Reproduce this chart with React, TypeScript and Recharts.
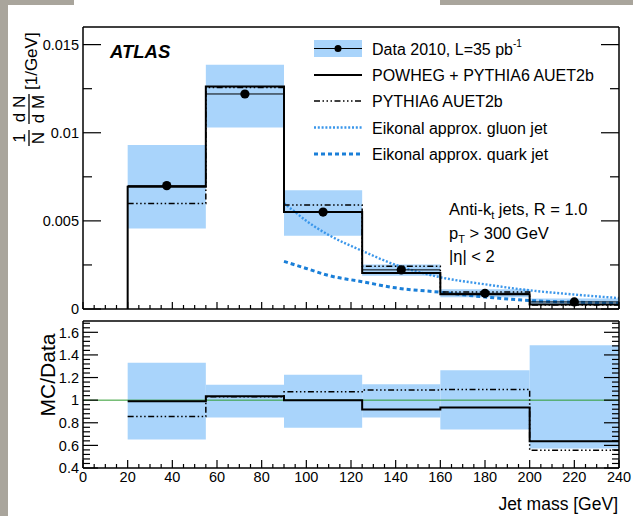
import React from 'react';
import { ComposedChart, Line, Scatter, ErrorBar, XAxis, YAxis, ReferenceArea, ReferenceLine } from 'recharts';

// jet mass bin edges [GeV]
const binEdges = [20, 55, 90, 125, 160, 200, 240];

// 1/N dN/dM [1/GeV] per bin
const dataValues = [0.007, 0.0122, 0.0055, 0.00222, 0.00089, 0.0004];
const dataBandLow = [0.00457, 0.0103, 0.00416, 0.00188, 0.00066, 0.00023];
const dataBandHigh = [0.00931, 0.01386, 0.00674, 0.00253, 0.00112, 0.00059];
const powhegValues = [0.00693, 0.01263, 0.0055, 0.00204, 0.00083, 0.00025];
const pythiaValues = [0.00599, 0.01257, 0.0059, 0.00242, 0.00097, 0.00022];

// eikonal approximation curves
const eikonalMass = [90, 95, 100, 110, 125, 140, 160, 180, 200, 220, 240];
const gluonValues = [0.006, 0.0055, 0.005, 0.0042, 0.0033, 0.0025, 0.0018, 0.0014, 0.00106, 0.00082, 0.00062];
const quarkValues = [0.0027, 0.0025, 0.0023, 0.0019, 0.00155, 0.0012, 0.00095, 0.00068, 0.00048, 0.00039, 0.00032];

// MC/Data ratio per bin
const ratioBandLow = [0.653, 0.846, 0.757, 0.846, 0.74, 0.573];
const ratioBandHigh = [1.33, 1.136, 1.225, 1.14, 1.264, 1.486];
const ratioPowheg = [0.99, 1.035, 1.0, 0.917, 0.935, 0.636];
const ratioPythia = [0.855, 1.03, 1.074, 1.09, 1.095, 0.556];

// axis ticks
const massTicks = [0, 20, 40, 60, 80, 100, 120, 140, 160, 180, 200, 220, 240];
const spectrumTicks = [0, 0.005, 0.01, 0.015];
const ratioTicks = [0.4, 0.6, 0.8, 1, 1.2, 1.4, 1.6];

const FONT = '"Liberation Sans", Arial, Helvetica, sans-serif';
const BAND = '#a9d4fb';
const GLUON = '#3a96ea';
const QUARK = '#1a7fd8';
const DASH_DOT = '6 2.5 1.5 2.5 1.5 2.5 1.5 2.5';
const DOTTED = '2 1.8';

const W = 633;

const subdivide = (start: number, end: number, step: number) => {
  const out: number[] = [];
  for (let i = 0; start + i * step <= end + 1e-9; i++) out.push(+(start + i * step).toFixed(6));
  return out;
};

const massMinor = subdivide(0, 240, 5);
const spectrumMinor = subdivide(0, 0.015, 0.0025);
const ratioMinor = subdivide(0.4, 1.68, 0.04);

const stepRows = (vals: number[]) =>
  binEdges.map((m, i) => ({ m, v: vals[Math.min(i, vals.length - 1)] }));

const bins = dataValues.map((v, i) => ({
  m: (binEdges[i] + binEdges[i + 1]) / 2,
  v,
  err: (binEdges[i + 1] - binEdges[i]) / 2,
}));

const gluonRows = eikonalMass.map((m, i) => ({ m, v: gluonValues[i] }));
const quarkRows = eikonalMass.map((m, i) => ({ m, v: quarkValues[i] }));

type Side = 'left' | 'right' | 'top' | 'bottom';

const near = (v: number, list: number[]) => list.some((t) => Math.abs(t - v) < 1e-7);

// ticks point into the frame; labels only on major ticks
const makeTick =
  (side: Side, majors: number[], majorLen: number, minorLen: number, fmt?: (v: number) => string) =>
  (props: any) => {
    const { x, y, payload } = props;
    const v = payload.value as number;
    const major = near(v, majors);
    const len = major ? majorLen : minorLen;
    let x2 = x;
    let y2 = y;
    if (side === 'left') x2 = x + len;
    if (side === 'right') x2 = x - len;
    if (side === 'top') y2 = y + len;
    if (side === 'bottom') y2 = y - len;
    return (
      <g>
        <line x1={x} y1={y} x2={x2} y2={y2} stroke="#000" strokeWidth={1.2} />
        {fmt && major && side === 'left' && (
          <text x={x - 4} y={y} dy="0.36em" textAnchor="end" fontSize={14.5} fontFamily={FONT} fill="#000">
            {fmt(v)}
          </text>
        )}
        {fmt && major && side === 'bottom' && (
          <text x={x} y={y + 14} textAnchor="middle" fontSize={14.5} fontFamily={FONT} fill="#000">
            {fmt(v)}
          </text>
        )}
      </g>
    );
  };

const axisLine = { stroke: '#000', strokeWidth: 1.5 };

const Dot = (p: any) => <circle cx={p.cx} cy={p.cy} r={4.6} fill="#000" />;

// shared frame: thin axes on all four sides, 1px each
const frameAxes = (
  yDomain: [number, number],
  yTicks: number[],
  yMajors: number[],
  yMajorLen: number,
  yMinorLen: number,
  yFmt: (v: number) => string,
  xTopLen: [number, number],
  xBottomLen: [number, number],
  xFmt?: (v: number) => string,
) => [
  <XAxis key="xb" dataKey="m" type="number" domain={[0, 240]} allowDataOverflow ticks={massMinor} interval={0}
    height={1} tickSize={0} tickMargin={0} tickLine={false} axisLine={axisLine}
    tick={makeTick('bottom', massTicks, xBottomLen[0], xBottomLen[1], xFmt)} />,
  <XAxis key="xt" xAxisId="t" orientation="top" type="number" domain={[0, 240]} allowDataOverflow
    ticks={massMinor} interval={0} height={1} tickSize={0} tickMargin={0} tickLine={false} axisLine={axisLine}
    tick={makeTick('top', massTicks, xTopLen[0], xTopLen[1])} />,
  <YAxis key="yl" type="number" domain={yDomain} allowDataOverflow ticks={yTicks} interval={0}
    width={1} tickSize={0} tickMargin={0} tickLine={false} axisLine={axisLine}
    tick={makeTick('left', yMajors, yMajorLen, yMinorLen, yFmt)} />,
  <YAxis key="yr" yAxisId="r" orientation="right" type="number" domain={yDomain} allowDataOverflow
    ticks={yTicks} interval={0} width={1} tickSize={0} tickMargin={0} tickLine={false}
    axisLine={axisLine} tick={makeTick('right', yMajors, yMajorLen, yMinorLen)} />,
];

function SpectrumPanel() {
  return (
    <ComposedChart width={W} height={316} margin={{ top: 26, right: 13, bottom: 6, left: 82 }}>
      {frameAxes([0, 0.016], spectrumMinor, spectrumTicks, 18, 9, (v) => String(v), [7, 4], [7, 4])}

      {dataValues.map((_, i) => (
        <ReferenceArea key={`band-${i}`} x1={binEdges[i]} x2={binEdges[i + 1]} y1={dataBandLow[i]}
          y2={dataBandHigh[i]} fill={BAND} fillOpacity={1} stroke="none" />
      ))}

      <Line data={gluonRows} dataKey="v" type="monotone" stroke={GLUON} strokeWidth={2.4}
        strokeDasharray={DOTTED} dot={false} isAnimationActive={false} />
      <Line data={quarkRows} dataKey="v" type="monotone" stroke={QUARK} strokeWidth={3}
        strokeDasharray="4 3" dot={false} isAnimationActive={false} />
      <Line data={stepRows(pythiaValues)} dataKey="v" type="stepAfter" stroke="#000" strokeWidth={1.5}
        strokeDasharray={DASH_DOT} dot={false} isAnimationActive={false} />
      <Line data={[{ m: binEdges[0], v: 0 }, ...stepRows(powhegValues)]} dataKey="v" type="stepAfter"
        stroke="#000" strokeWidth={2} dot={false} isAnimationActive={false} />
      <Scatter data={bins} dataKey="v" shape={Dot} isAnimationActive={false}>
        <ErrorBar dataKey="err" direction="x" width={0} stroke="#000" strokeWidth={1} />
      </Scatter>
    </ComposedChart>
  );
}

function RatioPanel() {
  return (
    <ComposedChart width={W} height={200} margin={{ top: 4, right: 13, bottom: 47, left: 82 }}>
      {frameAxes([0.4, 1.7], ratioMinor, ratioTicks, 15, 7, (v) => String(+v.toFixed(1)), [5, 3], [8, 4],
        (v) => String(v))}

      {ratioBandLow.map((_, i) => (
        <ReferenceArea key={`rband-${i}`} x1={binEdges[i]} x2={binEdges[i + 1]} y1={ratioBandLow[i]}
          y2={ratioBandHigh[i]} fill={BAND} fillOpacity={1} stroke="none" />
      ))}
      <ReferenceLine y={1} stroke="#2e9a2e" strokeWidth={1} />

      <Line data={stepRows(ratioPythia)} dataKey="v" type="stepAfter" stroke="#000" strokeWidth={1.5}
        strokeDasharray={DASH_DOT} dot={false} isAnimationActive={false} />
      <Line data={stepRows(ratioPowheg)} dataKey="v" type="stepAfter" stroke="#000" strokeWidth={2}
        dot={false} isAnimationActive={false} />
    </ComposedChart>
  );
}

function Annotations() {
  const legendText = { fontSize: 16, fontFamily: FONT, fill: '#000' };
  return (
    <svg width={W} height={516} style={{ position: 'absolute', left: 0, top: 0, pointerEvents: 'none' }}>
      {/* y title of the spectrum panel */}
      <g transform="translate(0,148) rotate(-90)" fontFamily={FONT} fill="#000">
        <text x={10} y={25} fontSize={17} textAnchor="middle">1</text>
        <line x1={2} x2={18} y1={29} y2={29} stroke="#000" strokeWidth={1.3} />
        <text x={10} y={44} fontSize={17} textAnchor="middle">N</text>
        <text x={39} y={25} fontSize={17} textAnchor="middle">d N</text>
        <line x1={24} x2={54} y1={29} y2={29} stroke="#000" strokeWidth={1.3} />
        <text x={39} y={44} fontSize={17} textAnchor="middle">d M</text>
        <text x={58} y={37} fontSize={17}>[1/GeV]</text>
      </g>
      <text transform="translate(55,375) rotate(-90)" textAnchor="middle" fontSize={21} fontFamily={FONT}>
        MC/Data
      </text>
      <text x={618} y={510} textAnchor="end" fontSize={17.5} fontFamily={FONT}>
        Jet mass [GeV]
      </text>

      <text x={110} y={58} fontSize={18.5} fontWeight="bold" fontStyle="italic" fontFamily={FONT}>
        ATLAS
      </text>

      {/* legend */}
      <rect x={314} y={40} width={48} height={17} fill={BAND} />
      <line x1={314} x2={362} y1={48.5} y2={48.5} stroke="#000" strokeWidth={1} />
      <circle cx={338} cy={48.5} r={3.5} fill="#000" />
      <text x={372} y={55} {...legendText}>
        Data 2010, L=35 pb<tspan fontSize={10} dy={-8}>-1</tspan>
      </text>
      <line x1={314} x2={362} y1={75} y2={75} stroke="#000" strokeWidth={2} />
      <text x={372} y={81} {...legendText}>POWHEG + PYTHIA6 AUET2b</text>
      <line x1={314} x2={362} y1={101} y2={101} stroke="#000" strokeWidth={1.5} strokeDasharray={DASH_DOT} />
      <text x={372} y={107} {...legendText}>PYTHIA6 AUET2b</text>
      <line x1={314} x2={362} y1={127.5} y2={127.5} stroke={GLUON} strokeWidth={2.4} strokeDasharray={DOTTED} />
      <text x={372} y={133.5} {...legendText}>Eikonal approx. gluon jet</text>
      <line x1={314} x2={362} y1={154} y2={154} stroke={QUARK} strokeWidth={3} strokeDasharray="4 3" />
      <text x={372} y={160} {...legendText}>Eikonal approx. quark jet</text>

      {/* selection */}
      <g fontFamily={FONT} fontSize={16.5} fill="#000">
        <text x={449} y={215}>
          Anti-k<tspan fontSize={11} dy={4}>t</tspan>
          <tspan dy={-4}> jets, R = 1.0</tspan>
        </text>
        <text x={449} y={239}>
          p<tspan fontSize={11} dy={4}>T</tspan>
          <tspan dy={-4}> &gt; 300 GeV</tspan>
        </text>
        <text x={449} y={262}>|η| &lt; 2</text>
      </g>
    </svg>
  );
}

export default function App() {
  return (
    <div style={{ position: 'absolute', left: 0, top: 0, width: W, height: 516, background: '#fff', overflow: 'hidden' }}>
      <div style={{ position: 'absolute', left: 0, top: 0, width: 8, height: 516, background: '#a9a59c' }} />
      <div style={{ position: 'absolute', left: 0, top: 0, width: 74, height: 5, background: '#a9a59c' }} />
      <div style={{ position: 'absolute', left: 440, top: 0, width: 193, height: 5, background: '#a9a59c' }} />
      <div style={{ position: 'absolute', left: 0, top: 0 }}>
        <SpectrumPanel />
      </div>
      <div style={{ position: 'absolute', left: 0, top: 316 }}>
        <RatioPanel />
      </div>
      <Annotations />
    </div>
  );
}
